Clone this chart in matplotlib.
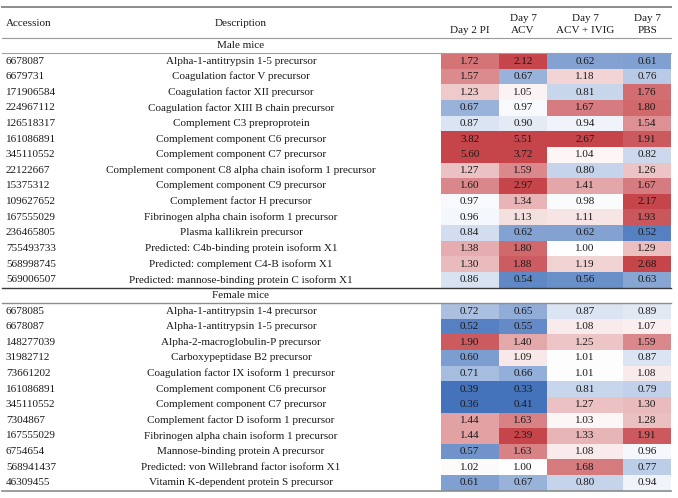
import numpy as np
import matplotlib
matplotlib.use("Agg")
import matplotlib.pyplot as plt
from matplotlib.colors import LinearSegmentedColormap, Normalize

# ---------------- data ----------------
columns = ["Day 2 PI", "Day 7\nACV", "Day 7\nACV + IVIG", "Day 7\nPBS"]
groups = ["Male mice", "Female mice"]

male_accession = ["6678087", "6679731", "171906584", "224967112", "126518317",
                  "161086891", "345110552", "22122667", "15375312", "109627652",
                  "167555029", "236465805", "755493733", "568998745", "569006507"]
male_description = ["Alpha-1-antitrypsin 1-5 precursor",
                    "Coagulation factor V precursor",
                    "Coagulation factor XII precursor",
                    "Coagulation factor XIII B chain precursor",
                    "Complement C3 preproprotein",
                    "Complement component C6 precursor",
                    "Complement component C7 precursor",
                    "Complement component C8 alpha chain isoform 1 precursor",
                    "Complement component C9 precursor",
                    "Complement factor H precursor",
                    "Fibrinogen alpha chain isoform 1 precursor",
                    "Plasma kallikrein precursor",
                    "Predicted: C4b-binding protein isoform X1",
                    "Predicted: complement C4-B isoform X1",
                    "Predicted: mannose-binding protein C isoform X1"]
male_day2 = [1.72, 1.57, 1.23, 0.67, 0.87, 3.82, 5.60, 1.27, 1.60, 0.97, 0.96, 0.84, 1.38, 1.30, 0.86]
male_acv = [2.12, 0.67, 1.05, 0.97, 0.90, 5.51, 3.72, 1.59, 2.97, 1.34, 1.13, 0.62, 1.80, 1.88, 0.54]
male_ivig = [0.62, 1.18, 0.81, 1.67, 0.94, 2.67, 1.04, 0.80, 1.41, 0.98, 1.11, 0.62, 1.00, 1.19, 0.56]
male_pbs = [0.61, 0.76, 1.76, 1.80, 1.54, 1.91, 0.82, 1.26, 1.67, 2.17, 1.93, 0.52, 1.29, 2.68, 0.63]

female_accession = ["6678085", "6678087", "148277039", "31982712", "73661202",
                    "161086891", "345110552", "7304867", "167555029", "6754654",
                    "568941437", "46309455"]
female_description = ["Alpha-1-antitrypsin 1-4 precursor",
                      "Alpha-1-antitrypsin 1-5 precursor",
                      "Alpha-2-macroglobulin-P precursor",
                      "Carboxypeptidase B2 precursor",
                      "Coagulation factor IX isoform 1 precursor",
                      "Complement component C6 precursor",
                      "Complement component C7 precursor",
                      "Complement factor D isoform 1 precursor",
                      "Fibrinogen alpha chain isoform 1 precursor",
                      "Mannose-binding protein A precursor",
                      "Predicted: von Willebrand factor isoform X1",
                      "Vitamin K-dependent protein S precursor"]
female_day2 = [0.72, 0.52, 1.90, 0.60, 0.71, 0.39, 0.36, 1.44, 1.44, 0.57, 1.02, 0.61]
female_acv = [0.65, 0.55, 1.40, 1.09, 0.66, 0.33, 0.41, 1.63, 2.39, 1.63, 1.00, 0.67]
female_ivig = [0.87, 1.08, 1.25, 1.01, 1.01, 0.81, 1.27, 1.03, 1.33, 1.08, 1.68, 0.80]
female_pbs = [0.89, 1.07, 1.59, 0.87, 1.08, 0.79, 1.30, 1.28, 1.91, 0.96, 0.77, 0.94]

# ---------------- layout ----------------
W, H = 678, 498
col_edges = [440.5, 499, 547, 623, 671]
row_h = 15.62
male_top = 53.2
female_top = 303.2
x_acc = 6
x_desc = 241
table_left, table_right = 2, 671

font = "Liberation Serif"
fs = 8.0
txt_color = "#1a1a1a"

cmap = LinearSegmentedColormap.from_list(
    "bwr_tab", [(0.0, "#4473bb"), (0.5, "#ffffff"), (1.0, "#c5454a")])
norm = Normalize(vmin=-1.05, vmax=1.05)

fig = plt.figure(figsize=(W / 100, H / 100), dpi=100)
ax = fig.add_axes([0, 0, 1, 1])
ax.set_xlim(0, W)
ax.set_ylim(H, 0)
ax.axis("off")


def draw_block(top, acc, desc, cols):
    vals = np.array(cols).T  # rows x 4
    n = vals.shape[0]
    yedges = top + np.arange(n + 1) * row_h
    ax.pcolormesh(col_edges, yedges, np.log2(vals), cmap=cmap, norm=norm,
                  shading="flat", edgecolors="none", zorder=1)
    centers_x = [(col_edges[i] + col_edges[i + 1]) / 2 for i in range(4)]
    for r in range(n):
        yc = top + (r + 0.5) * row_h
        ax.text(x_acc, yc, acc[r], ha="left", va="center", family=font,
                fontsize=fs, color=txt_color, zorder=3)
        ax.text(x_desc, yc, desc[r], ha="center", va="center", family=font,
                fontsize=fs, color=txt_color, zorder=3)
        for c in range(4):
            ax.text(centers_x[c], yc, f"{vals[r, c]:.2f}", ha="center",
                    va="center", family=font, fontsize=fs, color=txt_color,
                    zorder=3)
    return top + n * row_h


# header
hdr_x = [470, 523, 585, 648]
ax.text(x_acc, 23, "Accession", ha="left", va="center", family=font,
        fontsize=fs, color=txt_color)
ax.text(x_desc, 23, "Description", ha="center", va="center", family=font,
        fontsize=fs, color=txt_color)
for x, lab in zip(hdr_x, columns):
    ax.text(x, 34.5, lab, ha="center", va="bottom", family=font, fontsize=fs,
            color=txt_color, linespacing=1.35)

ax.plot([table_left, table_right], [7, 7], color="#8c8c8c", lw=1.4)
ax.plot([table_left, table_right], [38, 38], color="#9a9a9a", lw=0.8)

ax.text(x_desc, 45.5, groups[0], ha="center", va="center", family=font,
        fontsize=fs, color=txt_color)
ax.plot([table_left, table_right], [male_top, male_top], color="#a0a0a0", lw=0.8)
male_bottom = draw_block(male_top, male_accession, male_description,
                         [male_day2, male_acv, male_ivig, male_pbs])
ax.plot([table_left, table_right], [male_bottom, male_bottom], color="#3a3a3a", lw=1.0)

ax.text(x_desc, (male_bottom + female_top) / 2, groups[1], ha="center",
        va="center", family=font, fontsize=fs, color=txt_color)
ax.plot([table_left, table_right], [female_top, female_top], color="#8c8c8c", lw=1.0)
female_bottom = draw_block(female_top, female_accession, female_description,
                           [female_day2, female_acv, female_ivig, female_pbs])
ax.plot([table_left, table_right], [female_bottom + 0.5, female_bottom + 0.5],
        color="#8c8c8c", lw=1.2)

fig.savefig("out.png", dpi=100)
